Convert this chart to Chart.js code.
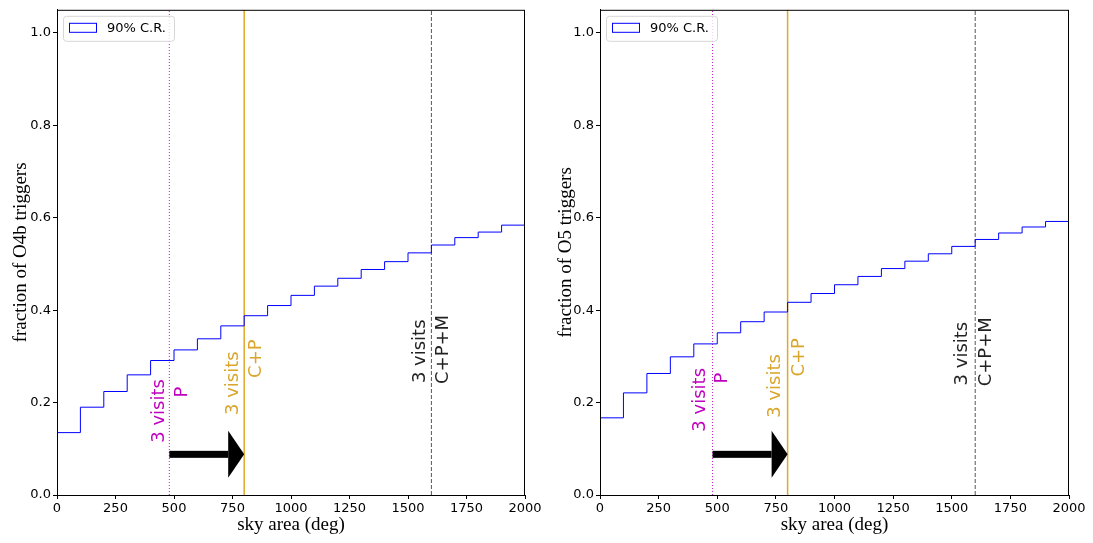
<!DOCTYPE html>
<html>
<head>
<meta charset="utf-8">
<title>Sky area coverage</title>
<script src="https://cdn.jsdelivr.net/npm/chart.js@4.4.1/dist/chart.umd.min.js"></script>
<style>
    body { margin: 0; background: #fff; width: 1093px; height: 543px; overflow: hidden; }
    .panel { position: absolute; top: 0; }
    #left-panel { left: 0; }
    #right-panel { left: 543px; }
</style>
</head>
<body>
<div class="panel" id="left-panel"><canvas id="o4b-canvas" width="546" height="543"></canvas></div>
<div class="panel" id="right-panel"><canvas id="o5-canvas" width="550" height="543"></canvas></div>
<script>
// Histogram bin edges (deg^2) and cumulative fraction of triggers per bin
var binEdges = [0, 100, 200, 300, 400, 500, 600, 700, 800, 900, 1000,
                1100, 1200, 1300, 1400, 1500, 1600, 1700, 1800, 1900, 2000];
var o4bFraction = [0.135, 0.190, 0.224, 0.260, 0.291, 0.314, 0.338, 0.366, 0.388, 0.410,
                   0.432, 0.452, 0.469, 0.488, 0.505, 0.524, 0.541, 0.557, 0.569, 0.584];
var o5Fraction = [0.167, 0.221, 0.263, 0.299, 0.327, 0.351, 0.375, 0.396, 0.417, 0.436,
                  0.455, 0.473, 0.490, 0.506, 0.522, 0.538, 0.553, 0.567, 0.580, 0.592];

// Sky area reachable with 3 visits for each survey combination
var thresholdAreas = [480, 800, 1600];
var thresholdNames = ["P", "C+P", "C+P+M"];
var visitsLabel = "3 visits";

// Tick labels
var xTicks = [0, 250, 500, 750, 1000, 1250, 1500, 1750, 2000];
var yTicks = [0.0, 0.2, 0.4, 0.6, 0.8, 1.0];

var legendLabel = "90% C.R.";

const lineColours = ["#c020c0", "#e0a82a", "#555555"];
const textColours = ["#c000c0", "#d9a52a", "#222222"];
const tickFont = { family: "DejaVu Sans", size: 13 };
const titleFont = { family: "Liberation Serif", size: 19 };

/*
* Turn the bins into points for a stepped line
*/
function StepPoints(values) {
    var points = [{ x: binEdges[0], y: 0 }];
    for (var i = 0; i < values.length; i++) {
        points.push({ x: binEdges[i + 1], y: values[i] });
    }
    return points;
}

/*
* Frame, arrow, rotated labels and legend drawn on top of the chart
*/
var decorationsPlugin = {
    id: 'decorations',
    afterDatasetsDraw: function(chart) {
        var ctx = chart.ctx;
        var xs = chart.scales.x;
        var ys = chart.scales.y;
        var opts = chart.options.plugins.decorations;

        // Arrow from the P area to the C+P area
        var x0 = xs.getPixelForValue(thresholdAreas[0]);
        var x1 = xs.getPixelForValue(thresholdAreas[1]);
        var ya = ys.getPixelForValue(opts.arrowY);
        ctx.save();
        ctx.fillStyle = "#000";
        ctx.fillRect(x0, ya - 3.5, x1 - 16 - x0, 7);
        ctx.beginPath();
        ctx.moveTo(x1 - 16, ya - 23.5);
        ctx.lineTo(x1, ya);
        ctx.lineTo(x1 - 16, ya + 23.5);
        ctx.closePath();
        ctx.fill();
        ctx.restore();

        // Rotated text either side of each vertical line
        ctx.save();
        ctx.font = "18px 'DejaVu Sans'";
        ctx.textAlign = "center";
        ctx.textBaseline = "middle";
        for (var i = 0; i < thresholdAreas.length; i++) {
            var lx = xs.getPixelForValue(thresholdAreas[i]);
            var pairs = [[visitsLabel, opts.leftShift[i], opts.visitsY[i]],
                         [thresholdNames[i], opts.rightShift[i], opts.nameY[i]]];
            pairs.forEach(function(p) {
                ctx.save();
                ctx.translate(lx + p[1], ys.getPixelForValue(p[2]));
                ctx.rotate(-Math.PI / 2);
                ctx.fillStyle = textColours[i];
                ctx.fillText(p[0], 0, 0);
                ctx.restore();
            });
        }
        ctx.restore();
    },
    afterDraw: function(chart) {
        var ctx = chart.ctx;
        var area = chart.chartArea;

        // Axes frame on all four sides
        ctx.save();
        ctx.strokeStyle = "#000";
        ctx.lineWidth = 1;
        ctx.strokeRect(area.left + 0.5, area.top + 0.5, area.right - area.left - 1, area.bottom - area.top);
        ctx.restore();

        // Legend box
        var lx = area.left + 6;
        var ly = area.top + 6;
        ctx.save();
        ctx.beginPath();
        ctx.roundRect(lx + 0.5, ly + 0.5, 111, 25, 3);
        ctx.fillStyle = "rgba(255,255,255,0.8)";
        ctx.fill();
        ctx.strokeStyle = "#d6d6d6";
        ctx.stroke();
        ctx.strokeStyle = "#0000ff";
        ctx.strokeRect(lx + 6.5, ly + 7.5, 27, 9);
        ctx.fillStyle = "#000";
        ctx.font = "13px 'DejaVu Sans'";
        ctx.textBaseline = "middle";
        ctx.fillText(legendLabel, lx + 44, ly + 13);
        ctx.restore();
    }
};

/*
* Build one panel
* @param canvasId - id of canvas element
* @param values - cumulative fractions for each bin
* @param yTitle - y axis title
* @param layout - text placement for this panel
*/
function MakePanel(canvasId, values, yTitle, layout) {
    var datasets = [{
        data: StepPoints(values),
        stepped: 'after',
        borderColor: "#0000ff",
        borderWidth: 1,
        pointRadius: 0,
        fill: false
    }];
    var dashes = [[1, 2], [], [4, 2]];
    var widths = [1, 1.5, 1];
    for (var i = 0; i < thresholdAreas.length; i++) {
        datasets.push({
            data: [{ x: thresholdAreas[i], y: 0 }, { x: thresholdAreas[i], y: 1.05 }],
            borderColor: lineColours[i],
            borderWidth: widths[i],
            borderDash: dashes[i],
            pointRadius: 0,
            fill: false
        });
    }

    return new Chart(document.getElementById(canvasId).getContext('2d'), {
        type: 'line',
        data: { datasets: datasets },
        options: {
            responsive: false,
            animation: false,
            layout: { padding: { top: 4, right: layout.rightPad, left: 0, bottom: 0 } },
            plugins: {
                legend: { display: false },
                tooltip: { enabled: false },
                decorations: layout
            },
            scales: {
                x: {
                    type: 'linear',
                    min: 0,
                    max: 2000,
                    afterBuildTicks: function(scale) {
                        scale.ticks = xTicks.map(function(v) { return { value: v }; });
                    },
                    afterFit: function(scale) { scale.height = 48; },
                    ticks: {
                        font: tickFont, color: "#000", padding: 2, maxRotation: 0, autoSkip: false,
                        callback: function(v) { return String(v); }
                    },
                    grid: { drawOnChartArea: false, tickLength: 4, color: "#000" },
                    border: { color: "#000" },
                    title: { display: true, text: 'sky area (deg)', font: titleFont, color: "#000", padding: { top: 0, bottom: 7 } }
                },
                y: {
                    type: 'linear',
                    min: 0,
                    max: 1.05,
                    afterBuildTicks: function(scale) {
                        scale.ticks = yTicks.map(function(v) { return { value: v }; });
                    },
                    afterFit: function(scale) { scale.width = 57; },
                    ticks: {
                        font: tickFont, color: "#000", padding: 2,
                        callback: function(v) { return v.toFixed(1); }
                    },
                    grid: { drawOnChartArea: false, tickLength: 4, color: "#000" },
                    border: { color: "#000" },
                    title: { display: true, text: yTitle, font: titleFont, color: "#000", padding: { top: layout.titlePad, bottom: 0 } }
                }
            }
        },
        plugins: [decorationsPlugin]
    });
}

window.onload = function() {
    MakePanel('o4b-canvas', o4bFraction, 'fraction of O4b triggers', {
        rightPad: 21, titlePad: 10, arrowY: 0.088,
        leftShift: [-10, -11, -11], rightShift: [13, 12, 12],
        visitsY: [0.182, 0.242, 0.311], nameY: [0.223, 0.295, 0.315]
    });
    MakePanel('o5-canvas', o5Fraction, 'fraction of O5 triggers', {
        rightPad: 24, titlePad: 12, arrowY: 0.088,
        leftShift: [-12, -12, -13], rightShift: [10, 12, 11],
        visitsY: [0.206, 0.236, 0.306], nameY: [0.253, 0.298, 0.310]
    });
}
</script>
</body>
</html>
